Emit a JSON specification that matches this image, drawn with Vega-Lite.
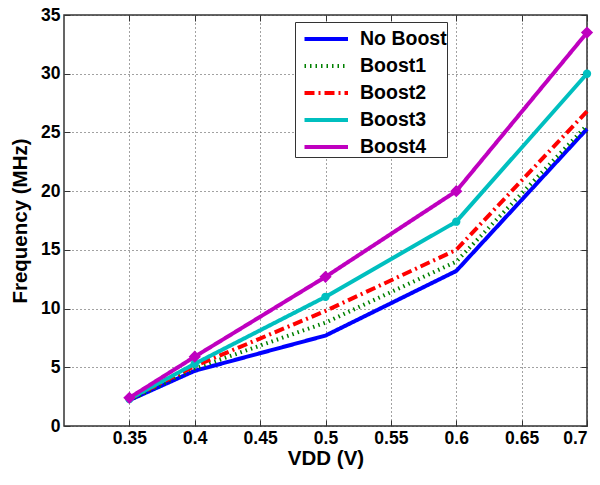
{
  "$schema": "https://vega.github.io/schema/vega-lite/v6.json",
  "width": 523,
  "height": 411,
  "autosize": {"type": "none"},
  "padding": {"left": 64, "top": 15, "right": 13, "bottom": 59},
  "background": "white",
  "config": {
    "font": "Liberation Sans",
    "view": {"stroke": "#333333", "strokeWidth": 1.5},
    "axis": {
      "domain": false,
      "tickColor": "#333333",
      "tickSize": -6,
      "labelFont": "Liberation Sans",
      "labelFontSize": 17.5,
      "labelFontWeight": "bold",
      "labelColor": "black",
      "titleFont": "Liberation Sans",
      "titleFontSize": 20.5,
      "titleFontWeight": "bold",
      "titleColor": "black"
    }
  },
  "data": {
    "values": [
      {"vdd": 0.35, "freq": 2.2, "series": "No Boost"},
      {"vdd": 0.4, "freq": 4.7, "series": "No Boost"},
      {"vdd": 0.5, "freq": 7.7, "series": "No Boost"},
      {"vdd": 0.6, "freq": 13.2, "series": "No Boost"},
      {"vdd": 0.7, "freq": 25.3, "series": "No Boost"},
      {"vdd": 0.35, "freq": 2.2, "series": "Boost1"},
      {"vdd": 0.4, "freq": 4.9, "series": "Boost1"},
      {"vdd": 0.5, "freq": 8.8, "series": "Boost1"},
      {"vdd": 0.6, "freq": 14.0, "series": "Boost1"},
      {"vdd": 0.7, "freq": 25.6, "series": "Boost1"},
      {"vdd": 0.35, "freq": 2.3, "series": "Boost2"},
      {"vdd": 0.4, "freq": 5.1, "series": "Boost2"},
      {"vdd": 0.5, "freq": 9.8, "series": "Boost2"},
      {"vdd": 0.6, "freq": 15.0, "series": "Boost2"},
      {"vdd": 0.7, "freq": 26.8, "series": "Boost2"},
      {"vdd": 0.35, "freq": 2.3, "series": "Boost3"},
      {"vdd": 0.4, "freq": 5.3, "series": "Boost3"},
      {"vdd": 0.5, "freq": 11.0, "series": "Boost3"},
      {"vdd": 0.6, "freq": 17.4, "series": "Boost3"},
      {"vdd": 0.7, "freq": 30.0, "series": "Boost3"},
      {"vdd": 0.35, "freq": 2.4, "series": "Boost4"},
      {"vdd": 0.4, "freq": 5.9, "series": "Boost4"},
      {"vdd": 0.5, "freq": 12.7, "series": "Boost4"},
      {"vdd": 0.6, "freq": 20.0, "series": "Boost4"},
      {"vdd": 0.7, "freq": 33.5, "series": "Boost4"}
    ]
  },
  "resolve": {"axis": {"x": "independent", "y": "independent"}},
  "layer": [
    {
      "mark": {"type": "line", "strokeWidth": 4},
      "encoding": {
        "x": {
          "field": "vdd",
          "type": "quantitative",
          "scale": {"domain": [0.3, 0.7], "nice": false, "zero": false},
          "axis": {"title": "VDD (V)", "values": [0.35, 0.4, 0.45, 0.5, 0.55, 0.6, 0.65, 0.7], "format": "~g", "labelPadding": 9, "titlePadding": 2, "grid": true, "gridColor": "#444444", "gridDash": [1, 3], "gridWidth": 1}
        },
        "y": {
          "field": "freq",
          "type": "quantitative",
          "scale": {"domain": [0, 35], "nice": false},
          "axis": {"title": "Frequency (MHz)", "values": [0, 5, 10, 15, 20, 25, 30, 35], "labelPadding": 10, "titlePadding": 10, "grid": true, "gridColor": "#444444", "gridDash": [1, 3], "gridWidth": 1}
        },
        "strokeDash": {
          "field": "series",
          "type": "nominal",
          "scale": {
            "domain": ["No Boost", "Boost1", "Boost2", "Boost3", "Boost4"],
            "range": [[1, 0], [1.5, 4], [10, 4, 2, 4], [1, 0], [1, 0]]
          }
        },
        "color": {
          "field": "series",
          "type": "nominal",
          "scale": {
            "domain": ["No Boost", "Boost1", "Boost2", "Boost3", "Boost4"],
            "range": ["#0000FF", "#008000", "#FF0000", "#00BFBF", "#BF00BF"]
          },
          "legend": {
            "title": null,
            "orient": "none",
            "legendX": 231,
            "legendY": 7,
            "symbolType": "M-0.5,0H2.4",
            "symbolSize": 900,
            "symbolStrokeWidth": 4,
            "rowPadding": -4,
            "labelFont": "Liberation Sans",
            "labelFontSize": 19.5,
            "labelFontWeight": "bold",
            "labelColor": "black",
            "labelOffset": 31,
            "strokeColor": "#333333",
            "fillColor": "white",
            "padding": 0
          }
        }
      }
    },
    {
      "transform": [{"filter": "datum.series === 'Boost3'"}],
      "mark": {"type": "point", "shape": "circle", "filled": true, "size": 70, "opacity": 1},
      "encoding": {
        "x": {
          "field": "vdd",
          "type": "quantitative",
          "axis": {"orient": "top", "title": null, "labels": false, "grid": false, "values": [0.35, 0.4, 0.45, 0.5, 0.55, 0.6, 0.65, 0.7]}
        },
        "y": {
          "field": "freq",
          "type": "quantitative",
          "axis": {"orient": "right", "title": null, "labels": false, "grid": false, "values": [0, 5, 10, 15, 20, 25, 30, 35]}
        },
        "color": {"field": "series", "type": "nominal"}
      }
    },
    {
      "transform": [{"filter": "datum.series === 'Boost4'"}],
      "mark": {"type": "point", "shape": "diamond", "filled": true, "size": 150, "opacity": 1},
      "encoding": {
        "x": {"field": "vdd", "type": "quantitative", "axis": null},
        "y": {"field": "freq", "type": "quantitative", "axis": null},
        "color": {"field": "series", "type": "nominal"}
      }
    }
  ]
}
